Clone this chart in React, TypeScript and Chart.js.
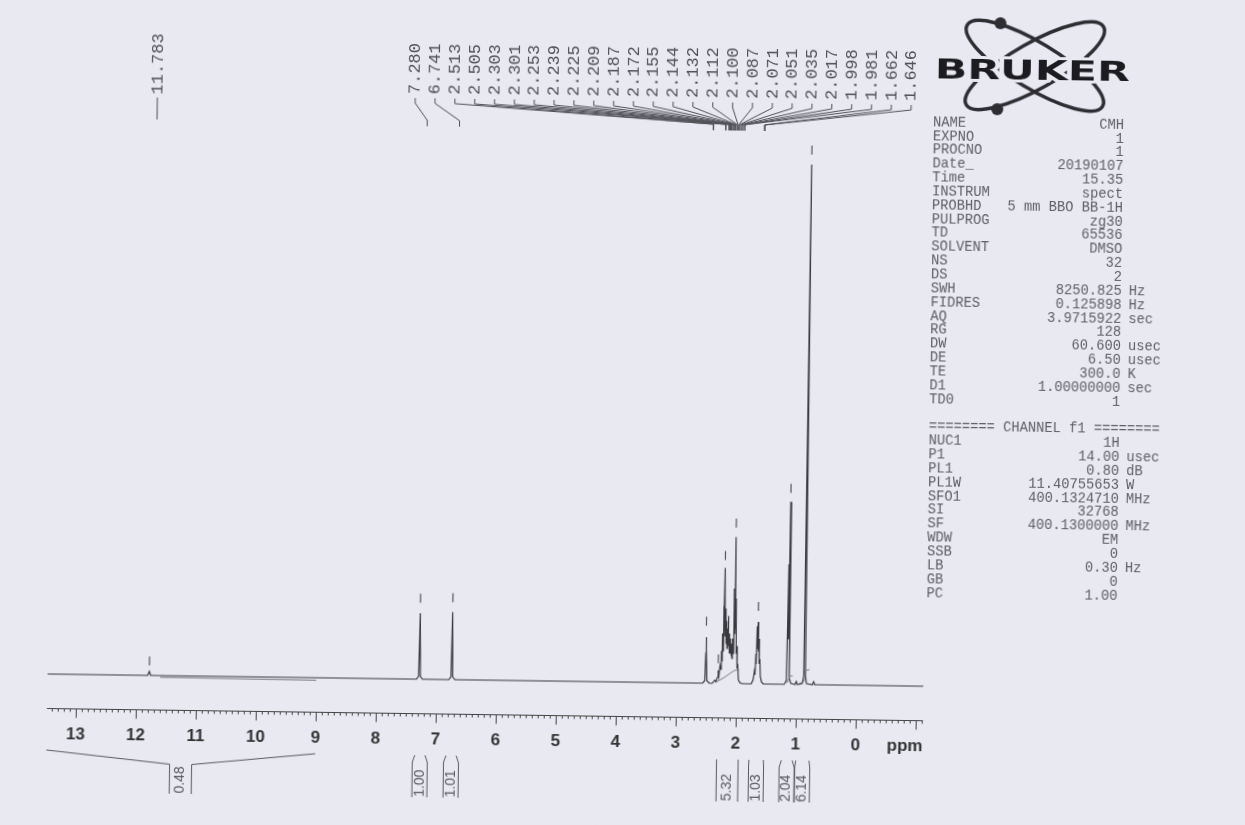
import React, { useEffect, useRef } from "react";
import Chart from "chart.js/auto";

// ---------- DATA ----------
const SPEC_PPM = [
  13.48, 11.81, 11.783, 11.76,
  7.33, 7.295, 7.28, 7.265, 7.23,
  6.79, 6.755, 6.741, 6.727, 6.69,
  2.56, 2.525, 2.513, 2.509, 2.505, 2.49, 2.45,
  2.4, 2.36, 2.34, 2.315, 2.303, 2.301, 2.29, 2.275, 2.262, 2.253, 2.246, 2.239, 2.232, 2.225, 2.217, 2.209,
  2.198, 2.187, 2.179, 2.172, 2.163, 2.155, 2.149, 2.144, 2.138, 2.132, 2.122, 2.112, 2.106, 2.1, 2.094,
  2.087, 2.079, 2.071, 2.062, 2.051, 2.043, 2.035, 2.026, 2.017, 2.008, 1.998, 1.99, 1.981, 1.965, 1.94, 1.9,
  1.75, 1.72, 1.7, 1.69, 1.678, 1.672, 1.662, 1.655, 1.646, 1.638, 1.63, 1.622, 1.612, 1.6, 1.58, 1.55,
  1.2, 1.165, 1.148, 1.14, 1.132, 1.118, 1.09,
  1.02, 1.0, 0.98,
  0.9, 0.876, 0.862, 0.848, 0.83,
  0.73, 0.71, 0.69,
  -1.12,
];
const SPEC_INT = [
  0, 0, 0.8, 0,
  0, 0.6, 13.2, 0.6, 0,
  0, 0.6, 13.5, 0.6, 0,
  0, 0.5, 6, 9.2, 7, 0.5, 0,
  0, 0.6, 0.3, 1.2, 2.6, 2.5, 1.5, 3.5, 2.8, 6.5, 4.5, 10, 6.5, 15.5, 9, 23.1,
  9.5, 15, 8, 12.5, 7, 11, 8, 13.5, 7.5, 10, 6, 9, 6, 8, 5.5,
  7.5, 5, 9, 6, 19, 10, 29.3, 11, 17, 6, 7.5, 3, 4, 0.8, 0.2, 0,
  0, 0.8, 2.5, 1.8, 6, 4, 11.5, 7, 12.4, 6.5, 9, 4, 5, 1.5, 0.4, 0,
  0, 0.8, 24, 9, 36.5, 1.2, 0.2,
  0, 0.6, 0,
  0.2, 1.8, 104, 1.8, 0.2,
  0, 0.6, 0,
  0,
];

// integral curves drawn over the spectrum (ppm / height)
const TRACE_A_PPM = [11.6, 9.0];
const TRACE_A_INT = [-0.35, -0.5];
const TRACE_B_PPM = [2.33, 2.2, 2.04, 1.95];
const TRACE_B_INT = [0.3, 1.2, 2.6, 2.8];
const TRACE_C_PPM = [1.2, 1.14, 1.12, 1.06];
const TRACE_C_INT = [0.2, 0.5, 1.6, 1.7];
const TRACE_D_PPM = [0.95, 0.87, 0.855, 0.78];
const TRACE_D_INT = [0.2, 0.6, 2.8, 3.0];

const MARK_PPM = [11.783, 7.28, 6.741, 2.509, 2.303, 2.209, 2.035, 1.646, 1.132, 0.862];
const MARK_INT = [2.9, 16.2, 16.4, 12.4, 4.9, 25.6, 32.1, 15.5, 39.2, 106.9];

const PEAK_LABELS = [
  "7.280", "6.741", "2.513", "2.505", "2.303", "2.301", "2.253", "2.239", "2.225", "2.209",
  "2.187", "2.172", "2.155", "2.144", "2.132", "2.112", "2.100", "2.087", "2.071", "2.051",
  "2.035", "2.017", "1.998", "1.981", "1.662", "1.646",
];
const LONE_LABEL = "11.783";

const INT_FROM = [13.48, 7.34, 6.82, 2.31, 1.77, 1.23, 0.99];
const INT_TO = [9.0, 7.17, 6.65, 1.95, 1.53, 1.05, 0.77];
const INT_VAL = ["0.48", "1.00", "1.01", "5.32", "1.03", "2.04", "6.14"];

const MAJOR_TICKS = [13, 12, 11, 10, 9, 8, 7, 6, 5, 4, 3, 2, 1, 0, -1];
const TICK_LABELS = ["13", "12", "11", "10", "9", "8", "7", "6", "5", "4", "3", "2", "1", "0", ""];

const PAR_NAMES = ["NAME", "EXPNO", "PROCNO", "Date_", "Time", "INSTRUM", "PROBHD", "PULPROG", "TD", "SOLVENT", "NS", "DS", "SWH", "FIDRES", "AQ", "RG", "DW", "DE", "TE", "D1", "TD0"];
const PAR_VALUES = ["CMH", "1", "1", "20190107", "15.35", "spect", "5 mm BBO BB-1H", "zg30", "65536", "DMSO", "32", "2", "8250.825", "0.125898", "3.9715922", "128", "60.600", "6.50", "300.0", "1.00000000", "1"];
const PAR_UNITS = ["", "", "", "", "", "", "", "", "", "", "", "", "Hz", "Hz", "sec", "", "usec", "usec", "K", "sec", ""];
const CHANNEL_TITLE = "======== CHANNEL f1 ========";
const CH_NAMES = ["NUC1", "P1", "PL1", "PL1W", "SFO1", "SI", "SF", "WDW", "SSB", "LB", "GB", "PC"];
const CH_VALUES = ["1H", "14.00", "0.80", "11.40755653", "400.1324710", "32768", "400.1300000", "EM", "0", "0.30", "0", "1.00"];
const CH_UNITS = ["", "usec", "dB", "W", "MHz", "", "MHz", "", "", "Hz", "", ""];

// ---------- STYLE ----------
const PAPER = "#e8e9f1";
const INK = "#3a3a3e";
const GRAY = "#5a5a60";
const MONO = "'Liberation Mono', 'DejaVu Sans Mono', monospace";
const SANS = "'Liberation Sans', Arial, sans-serif";

const overlay = {
  id: "nmrOverlay",
  afterDatasetsDraw(chart: any) {
    const ctx = chart.ctx as CanvasRenderingContext2D;
    const xs = chart.scales.x;
    const area = chart.chartArea;
    const px = (v: number) => xs.getPixelForValue(v);
    const axisY = area.bottom + 26.5;

    ctx.save();
    ctx.strokeStyle = "#444";
    ctx.fillStyle = "#333";
    ctx.lineWidth = 1;

    // axis line
    ctx.beginPath();
    ctx.moveTo(px(xs.max), axisY);
    ctx.lineTo(px(xs.min), axisY);
    ctx.stroke();
    // minor ticks
    ctx.beginPath();
    for (let t = Math.ceil(xs.min * 10); t <= Math.floor(xs.max * 10); t++) {
      if (t % 10 === 0) continue;
      const x = Math.round(px(t / 10)) + 0.5;
      ctx.moveTo(x, axisY);
      ctx.lineTo(x, axisY + 3);
    }
    ctx.stroke();
    // major ticks + labels
    ctx.beginPath();
    MAJOR_TICKS.forEach((v) => {
      const x = Math.round(px(v)) + 0.5;
      ctx.moveTo(x, axisY);
      ctx.lineTo(x, axisY + 9);
    });
    ctx.stroke();
    ctx.font = `bold 17px ${SANS}`;
    ctx.textAlign = "center";
    ctx.textBaseline = "alphabetic";
    MAJOR_TICKS.forEach((v, i) => {
      if (TICK_LABELS[i]) ctx.fillText(TICK_LABELS[i], px(v), axisY + 30.5);
    });
    ctx.textAlign = "right";
    ctx.fillText("ppm", area.right, axisY + 30.5);

    // integrals
    ctx.strokeStyle = GRAY;
    ctx.fillStyle = GRAY;
    ctx.font = `14px ${SANS}`;
    INT_FROM.forEach((f, i) => {
      const x1 = px(f);
      const x2 = px(INT_TO[i]);
      const c = (x1 + x2) / 2;
      const rw = x2 - x1;
      const w = Math.max(15, Math.min(22, rw));
      const bl = c - w / 2;
      const br = c + w / 2;
      const top = axisY + 41.5;
      const bend = rw > 40 ? axisY + 54 : axisY + 48.5;
      const bottom = axisY + 83.5;
      ctx.beginPath();
      ctx.moveTo(x1, top);
      ctx.lineTo(bl, bend);
      ctx.lineTo(bl, bottom);
      ctx.moveTo(x2, top);
      ctx.lineTo(br, bend);
      ctx.lineTo(br, bottom);
      ctx.stroke();
      ctx.save();
      ctx.translate(c, axisY + 69.5);
      ctx.rotate(-Math.PI / 2);
      ctx.textAlign = "center";
      ctx.textBaseline = "middle";
      ctx.fillText(INT_VAL[i], 0, 0);
      ctx.restore();
    });

    // peak labels with leaders
    ctx.font = `17px ${MONO}`;
    ctx.fillStyle = "#505056";
    ctx.strokeStyle = "#505056";
    const n = PEAK_LABELS.length;
    const lastX = 906.9;
    const step = 19.84;
    PEAK_LABELS.forEach((lab, i) => {
      const lx = lastX - (n - 1 - i) * step;
      const pk = px(parseFloat(lab));
      ctx.save();
      ctx.translate(lx, 97);
      ctx.rotate(-Math.PI / 2);
      ctx.textAlign = "left";
      ctx.textBaseline = "middle";
      ctx.fillText(lab, 0, 0);
      ctx.restore();
      ctx.beginPath();
      ctx.moveTo(lx, 101);
      ctx.lineTo(lx, 106);
      ctx.lineTo(pk, 123);
      ctx.lineTo(pk, 129);
      ctx.stroke();
    });
    {
      const pk = px(parseFloat(LONE_LABEL));
      ctx.save();
      ctx.translate(pk, 101);
      ctx.rotate(-Math.PI / 2);
      ctx.textAlign = "left";
      ctx.textBaseline = "middle";
      ctx.fillText(LONE_LABEL, 0, 0);
      ctx.restore();
      ctx.beginPath();
      ctx.moveTo(pk, 104);
      ctx.lineTo(pk, 126);
      ctx.stroke();
    }

    // Bruker logo
    const cx = 1030, cy = 60;
    ctx.strokeStyle = "#2e2e32";
    ctx.lineWidth = 3.5;
    [0.53, -0.53].forEach((rot) => {
      ctx.beginPath();
      ctx.ellipse(cx, cy, 79, 23, rot, 0, Math.PI * 2);
      ctx.stroke();
    });
    ctx.fillStyle = "#2e2e32";
    [[995, 18], [993, 104]].forEach(([x, y]) => {
      ctx.beginPath();
      ctx.arc(x, y, 6, 0, Math.PI * 2);
      ctx.fill();
    });
    ctx.font = `bold 27px 'DejaVu Sans', sans-serif`;
    const tw = ctx.measureText("BRUKER").width;
    ctx.save();
    ctx.translate(1027.5, 74.3);
    ctx.scale(195 / tw, 1);
    ctx.textAlign = "center";
    ctx.textBaseline = "alphabetic";
    ctx.lineWidth = 6;
    ctx.strokeStyle = PAPER;
    ctx.lineJoin = "round";
    ctx.strokeText("BRUKER", 0, 0);
    ctx.fillStyle = "#1c1c20";
    ctx.fillText("BRUKER", 0, 0);
    ctx.restore();

    ctx.restore();
  },
};

const LINE_H = 13.85;
const FIRST_Y = 118.6;

function ParamRow({ idx, name, value, unit }: { idx: number; name: string; value: string; unit: string }) {
  const top = FIRST_Y + idx * LINE_H - LINE_H / 2;
  const base: React.CSSProperties = {
    position: "absolute",
    top,
    height: LINE_H,
    lineHeight: `${LINE_H}px`,
    fontFamily: MONO,
    fontSize: "13.75px",
    color: "#5e5e64",
    whiteSpace: "pre",
  };
  return (
    <>
      <div style={{ ...base, left: 929 }}>{name}</div>
      <div style={{ ...base, left: 929, width: 191, textAlign: "right" }}>{value}</div>
      {unit ? <div style={{ ...base, left: 1127 }}>{unit}</div> : null}
    </>
  );
}

const toPts = (xs: number[], ys: number[]) => xs.map((x, i) => ({ x, y: ys[i] }));

export default function App() {
  const ref = useRef<HTMLCanvasElement | null>(null);
  useEffect(() => {
    document.body.style.margin = "0";
    document.body.style.background = PAPER;
    const traceStyle = {
      showLine: true,
      borderColor: "#7a7a80",
      borderWidth: 1,
      pointRadius: 0,
      tension: 0,
    };
    const chart = new Chart(ref.current as HTMLCanvasElement, {
      type: "scatter",
      data: {
        datasets: [
          { data: toPts(TRACE_A_PPM, TRACE_A_INT), ...traceStyle } as any,
          { data: toPts(TRACE_B_PPM, TRACE_B_INT), ...traceStyle } as any,
          { data: toPts(TRACE_C_PPM, TRACE_C_INT), ...traceStyle } as any,
          { data: toPts(TRACE_D_PPM, TRACE_D_INT), ...traceStyle } as any,
          {
            data: toPts(SPEC_PPM, SPEC_INT),
            showLine: true,
            borderColor: INK,
            borderWidth: 1.2,
            pointRadius: 0,
            tension: 0,
          } as any,
          {
            data: toPts(MARK_PPM, MARK_INT),
            showLine: false,
            pointStyle: "line",
            rotation: 90,
            pointRadius: 4.5,
            borderColor: "#55555b",
            backgroundColor: "#55555b",
            borderWidth: 1.2,
          } as any,
        ],
      },
      options: {
        animation: false,
        responsive: false,
        maintainAspectRatio: false,
        events: [],
        layout: { padding: { left: 51.2, right: 317.8, top: 130, bottom: 135 } },
        scales: {
          x: { type: "linear", min: -1.12, max: 13.48, reverse: true, display: false },
          y: { type: "linear", min: -1.6, max: 110.4, display: false },
        },
        plugins: { legend: { display: false }, tooltip: { enabled: false }, title: { display: false } },
      },
      plugins: [overlay],
    });
    return () => chart.destroy();
  }, []);

  const rows: any[] = [];
  PAR_NAMES.forEach((n, i) => rows.push(<ParamRow key={"p" + i} idx={i} name={n} value={PAR_VALUES[i]} unit={PAR_UNITS[i]} />));
  rows.push(<ParamRow key="ch" idx={22} name={CHANNEL_TITLE} value="" unit="" />);
  CH_NAMES.forEach((n, i) => rows.push(<ParamRow key={"c" + i} idx={23 + i} name={n} value={CH_VALUES[i]} unit={CH_UNITS[i]} />));

  return (
    <div
      style={{
        position: "absolute",
        left: 0,
        top: 0,
        width: 1245,
        height: 825,
        background: PAPER,
        transform: "rotate(0.8deg)",
        transformOrigin: "622px 412px",
      }}
    >
      <canvas ref={ref} width={1245} height={825} style={{ position: "absolute", left: 0, top: 0 }} />
      {rows}
    </div>
  );
}
